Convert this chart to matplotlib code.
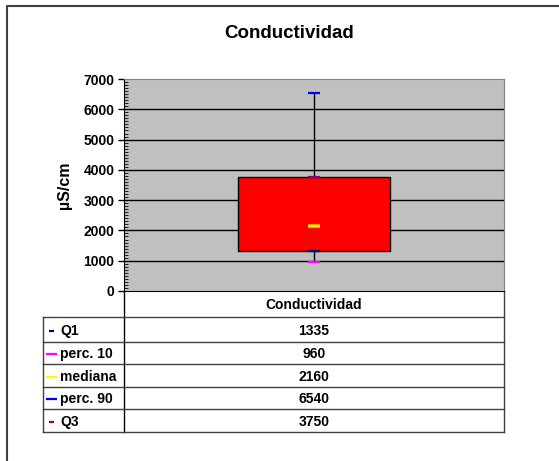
import matplotlib
matplotlib.use('Agg')
import matplotlib.pyplot as plt
from matplotlib.ticker import MultipleLocator

plt.rcParams['font.family'] = ['Liberation Sans', 'DejaVu Sans']
plt.rcParams['font.weight'] = 'bold'

# data
title = 'Conductividad'
unit = 'µS/cm'
row_labels = ['Q1', 'perc. 10', 'mediana', 'perc. 90', 'Q3']
row_values = [1335, 960, 2160, 6540, 3750]
row_colors = ['#000080', '#FF00FF', '#FFFF00', '#0000FF', '#800080']
y_ticks = [0, 1000, 2000, 3000, 4000, 5000, 6000, 7000]

q1, p10, med, p90, q3 = row_values

W, H = 559, 461
fig = plt.figure(figsize=(W / 100, H / 100), dpi=100)

# overlay in pixel coords for border and table
ov = fig.add_axes([0, 0, 1, 1])
ov.set_xlim(0, W)
ov.set_ylim(H, 0)
ov.axis('off')

# plot area
L, R, T, B = 124, 504, 79, 291
ax = fig.add_axes([L / W, 1 - B / H, (R - L) / W, (B - T) / H])
ax.set_facecolor('#C0C0C0')
ax.set_xlim(-0.5, 0.5)
ax.set_ylim(0, 7000)
ax.set_yticks(y_ticks)
ax.yaxis.set_minor_locator(MultipleLocator(100))
ax.tick_params(axis='y', which='major', length=4, width=1, labelsize=10, pad=3)
ax.tick_params(axis='y', which='minor', length=3, width=0.6, direction='in')
ax.set_xticks([])
for lab in ax.get_yticklabels():
    lab.set_fontweight('bold')
for y in y_ticks[1:-1]:
    ax.axhline(y, color='black', lw=1, zorder=1)
ax.spines['top'].set_color('#808080')
ax.spines['right'].set_color('#808080')
ax.spines['left'].set_color('black')
ax.spines['bottom'].set_color('black')
ax.set_ylabel(unit, fontsize=11.5, fontweight='bold', labelpad=8)

# whisker and box
cap = 0.034
ax.vlines(0, p10, p90, color='black', lw=1, zorder=2)
ax.bar(0, q3 - q1, bottom=q1, width=0.4, color='#FF0000', edgecolor='black', lw=1, zorder=3)
ax.hlines(p90, -cap / 2, cap / 2, color=row_colors[3], lw=1.6, zorder=4)
ax.hlines(p10, -cap / 2, cap / 2, color=row_colors[1], lw=1.6, zorder=4)
ax.hlines(q1, -cap / 2, cap / 2, color=row_colors[0], lw=1.6, zorder=4)
ax.hlines(q3, -cap / 2, cap / 2, color=row_colors[4], lw=1.6, zorder=4)
ax.hlines(med, -cap / 2, cap / 2, color='#FF9900', lw=3, zorder=4)
ax.hlines(med, -cap / 2, cap / 2, color=row_colors[2], lw=1.2, zorder=5)

fig.text(289 / W, 1 - 33 / H, title, ha='center', va='center', fontsize=13.5, fontweight='bold')

# table under the plot
TL = 43
rows_y = [317, 342, 364, 387, 409, 432]
lc = '#404040'
ov.plot([L, L], [B, rows_y[-1]], color='black', lw=1)
ov.plot([R, R], [B, rows_y[-1]], color=lc, lw=1)
ov.plot([TL, TL], [rows_y[0], rows_y[-1]], color=lc, lw=1)
for y in rows_y:
    ov.plot([TL, R], [y, y], color=lc, lw=1)
ov.text((L + R) / 2, (B + rows_y[0]) / 2 + 1, title, ha='center', va='center', fontsize=10, fontweight='bold')
short = [True, False, False, False, True]
for i, (lab, val, col) in enumerate(zip(row_labels, row_values, row_colors)):
    yc = (rows_y[i] + rows_y[i + 1]) / 2 + 1
    x0, x1 = (49, 54) if short[i] else (46, 57)
    ov.plot([x0, x1], [yc, yc], color=col, lw=1.6, solid_capstyle='butt')
    ov.text(60, yc, lab, ha='left', va='center', fontsize=10, fontweight='bold')
    ov.text((L + R) / 2, yc, str(val), ha='center', va='center', fontsize=10, fontweight='bold')

# outer border (cut off at right/bottom)
ov.plot([7, 7, W + 5], [H + 5, 6, 6], color='#404040', lw=1.5, clip_on=False)

fig.savefig('out.png', dpi=100)
